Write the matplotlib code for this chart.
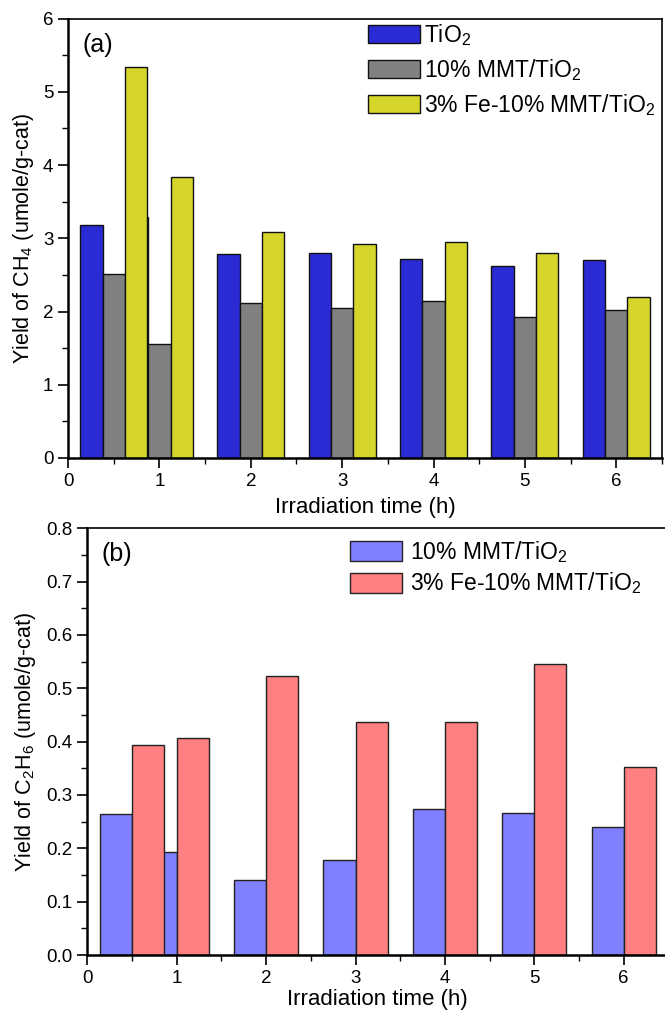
import numpy as np
from matplotlib import pyplot as plt
from matplotlib.ticker import MultipleLocator

plt.rcParams['font.family'] = ['Liberation Sans', 'DejaVu Sans']
plt.rcParams['mathtext.fontset'] = 'custom'
plt.rcParams['mathtext.rm'] = 'Liberation Sans'

# irradiation time groups (h)
hours = [0.5, 1, 2, 3, 4, 5, 6]

# panel (a): CH4 yield (umole/g-cat)
ch4_tio2 = [3.18, 3.29, 2.79, 2.80, 2.72, 2.62, 2.70]
ch4_mmt = [2.51, 1.56, 2.12, 2.05, 2.15, 1.93, 2.02]
ch4_fe = [5.34, 3.84, 3.09, 2.92, 2.95, 2.80, 2.20]

# panel (b): C2H6 yield (umole/g-cat)
c2h6_mmt = [0.264, 0.194, 0.141, 0.178, 0.273, 0.267, 0.240]
c2h6_fe = [0.393, 0.406, 0.524, 0.436, 0.436, 0.545, 0.353]

lbl_tio2 = r'Ti$\mathregular{O_2}$'
lbl_mmt = r'10% MMT/Ti$\mathregular{O_2}$'
lbl_fe = r'3% Fe-10% MMT/Ti$\mathregular{O_2}$'

fig = plt.figure(figsize=(6.65, 10.1), dpi=100)
x = np.array(hours)


def style_axis(ax, ymajor, yminor):
    ax.xaxis.set_major_locator(MultipleLocator(1))
    ax.xaxis.set_minor_locator(MultipleLocator(0.5))
    ax.yaxis.set_major_locator(MultipleLocator(ymajor))
    ax.yaxis.set_minor_locator(MultipleLocator(yminor))
    ax.tick_params(which='major', direction='out', length=7, width=1.2, labelsize=13.5)
    ax.tick_params(which='minor', direction='out', length=4, width=1.0)
    for s in ax.spines.values():
        s.set_linewidth(1.2)
    ax.spines['left'].set_linewidth(1.8)
    ax.spines['bottom'].set_linewidth(1.8)


# ---- (a)
ax1 = fig.add_axes([68 / 665, 1 - 458 / 1010, 594 / 665, 439.5 / 1010])
w = 0.244
ax1.bar(x - w, ch4_tio2, w, color='#2b2bd4', edgecolor='#111111', linewidth=1, label=lbl_tio2)
ax1.bar(x, ch4_mmt, w, color='#808080', edgecolor='#111111', linewidth=1, label=lbl_mmt)
ax1.bar(x + w, ch4_fe, w, color='#d6d62a', edgecolor='#111111', linewidth=1, label=lbl_fe)
ax1.set_xlim(0, 6.5)
ax1.set_ylim(0, 6)
style_axis(ax1, 1, 0.5)
ax1.set_xlabel('Irradiation time (h)', fontsize=16, labelpad=5)
ax1.set_ylabel(r'Yield of CH$_\mathregular{4}$ (umole/g-cat)', fontsize=15.5, labelpad=5)
ax1.text(0.025, 0.968, '(a)', transform=ax1.transAxes, fontsize=18, va='top')
ax1.legend(loc='upper left', bbox_to_anchor=(0.505, 0.992), frameon=False, fontsize=16.5,
           handlelength=2.25, handleheight=0.8, handletextpad=0.2, labelspacing=0.4,
           borderpad=0, borderaxespad=0)

# ---- (b)
ax2 = fig.add_axes([87.3 / 665, 1 - 955 / 1010, 6.5 * 89.4 / 665, 426.7 / 1010])
w2 = 0.36
ax2.bar(x - w2 / 2, c2h6_mmt, w2, color='#8080ff', edgecolor='#222222', linewidth=1, label=lbl_mmt)
ax2.bar(x + w2 / 2, c2h6_fe, w2, color='#ff8080', edgecolor='#222222', linewidth=1, label=lbl_fe)
ax2.set_xlim(0, 6.5)
ax2.set_ylim(0, 0.8)
style_axis(ax2, 0.1, 0.05)
ax2.yaxis.set_major_formatter(plt.FormatStrFormatter('%.1f'))
ax2.set_xlabel('Irradiation time (h)', fontsize=16, labelpad=2)
ax2.set_ylabel(r'Yield of C$_\mathregular{2}$H$_\mathregular{6}$ (umole/g-cat)', fontsize=15.5, labelpad=6)
ax2.text(0.025, 0.968, '(b)', transform=ax2.transAxes, fontsize=18, va='top')
ax2.legend(loc='upper left', bbox_to_anchor=(0.452, 0.975), frameon=False, fontsize=16.5,
           handlelength=2.25, handleheight=0.95, handletextpad=0.35, labelspacing=0.25,
           borderpad=0, borderaxespad=0)

fig.savefig('out.png', dpi=100)
